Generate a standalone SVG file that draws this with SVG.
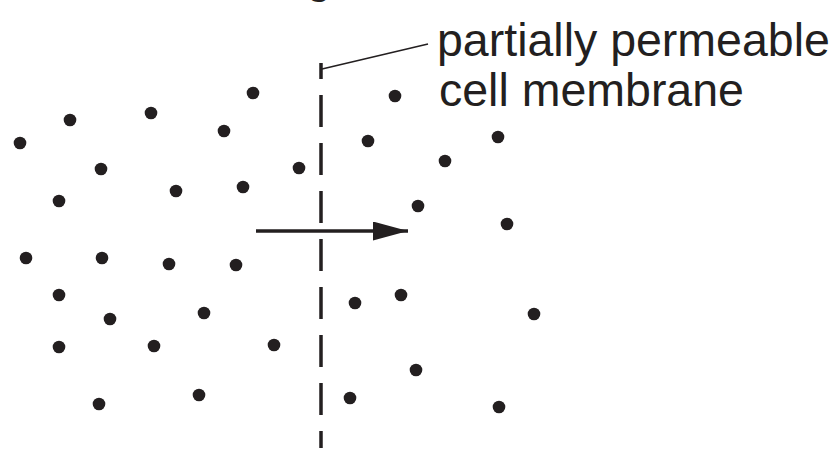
<svg xmlns="http://www.w3.org/2000/svg" width="837" height="465" viewBox="0 0 837 465">
<style>
.bg{fill:#ffffff}
.dot{fill:#231f20}
.lbl{font-family:"Liberation Sans",Arial,Helvetica,sans-serif;font-size:46.5px;fill:#231f20}
.mem{stroke:#231f20;stroke-width:3.5;stroke-dasharray:32 16;stroke-dashoffset:16;fill:none}
.lead{stroke:#231f20;stroke-width:1.6;fill:none}
.arr{stroke:#231f20;stroke-width:3.6;fill:none}
</style>
<defs>
<marker id="ah" markerUnits="userSpaceOnUse" markerWidth="36" markerHeight="20" refX="35" refY="9.5" orient="auto">
<path d="M0,0 L35,9.5 L0,19 Z" fill="#231f20"/>
</marker>
</defs>
<rect class="bg" x="0" y="0" width="837" height="465"/>
<text class="lbl" x="306" y="-8">g</text>
<g id="membrane">
<line class="mem" x1="321" y1="63" x2="321" y2="448"/>
</g>
<g id="label">
<text class="lbl" x="437" y="56">partially permeable</text>
<text class="lbl" x="439" y="106">cell membrane</text>
</g>
<g id="connectors">
<line class="lead" x1="322" y1="69" x2="428" y2="44"/>
<line class="arr" x1="256" y1="231" x2="408" y2="231" marker-end="url(#ah)"/>
</g>
<g id="particles-left">
<circle class="dot" cx="253" cy="93" r="6.3"/>
<circle class="dot" cx="70" cy="120" r="6.3"/>
<circle class="dot" cx="151" cy="113" r="6.3"/>
<circle class="dot" cx="224" cy="131" r="6.3"/>
<circle class="dot" cx="20" cy="143" r="6.3"/>
<circle class="dot" cx="101" cy="169" r="6.3"/>
<circle class="dot" cx="299" cy="168" r="6.3"/>
<circle class="dot" cx="59" cy="201" r="6.3"/>
<circle class="dot" cx="176" cy="191" r="6.3"/>
<circle class="dot" cx="243" cy="187" r="6.3"/>
<circle class="dot" cx="26" cy="258" r="6.3"/>
<circle class="dot" cx="102" cy="258" r="6.3"/>
<circle class="dot" cx="169" cy="264" r="6.3"/>
<circle class="dot" cx="236" cy="265" r="6.3"/>
<circle class="dot" cx="59" cy="295" r="6.3"/>
<circle class="dot" cx="110" cy="319" r="6.3"/>
<circle class="dot" cx="204" cy="313" r="6.3"/>
<circle class="dot" cx="59" cy="347" r="6.3"/>
<circle class="dot" cx="154" cy="346" r="6.3"/>
<circle class="dot" cx="274" cy="345" r="6.3"/>
<circle class="dot" cx="99" cy="404" r="6.3"/>
<circle class="dot" cx="199" cy="395" r="6.3"/>
</g>
<g id="particles-right">
<circle class="dot" cx="395" cy="96" r="6.3"/>
<circle class="dot" cx="368" cy="141" r="6.3"/>
<circle class="dot" cx="498" cy="137" r="6.3"/>
<circle class="dot" cx="445" cy="161" r="6.3"/>
<circle class="dot" cx="418" cy="206" r="6.3"/>
<circle class="dot" cx="507" cy="224" r="6.3"/>
<circle class="dot" cx="355" cy="303" r="6.3"/>
<circle class="dot" cx="401" cy="295" r="6.3"/>
<circle class="dot" cx="534" cy="314" r="6.3"/>
<circle class="dot" cx="416" cy="370" r="6.3"/>
<circle class="dot" cx="350" cy="398" r="6.3"/>
<circle class="dot" cx="499" cy="407" r="6.3"/>
</g>
</svg>
